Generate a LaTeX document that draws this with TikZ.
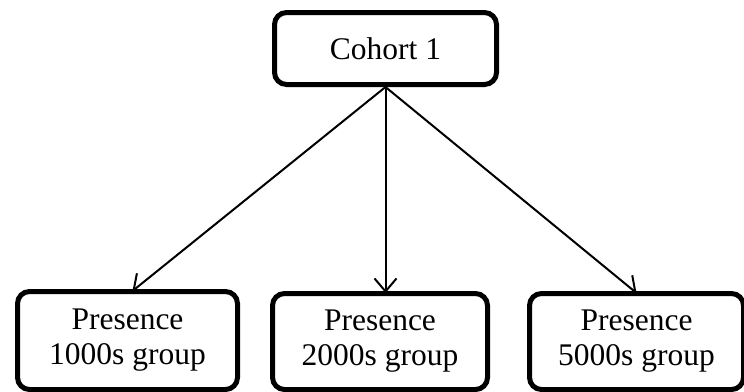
\documentclass[tikz,border=0pt]{standalone}
\usepackage{fontspec}
\setmainfont{Liberation Serif}
\usetikzlibrary{arrows.meta}
\begin{document}
\begin{tikzpicture}[x=1pt,y=-1pt,
  box/.style={draw=black, line width=5pt, rounded corners=12pt, fill=white,
    align=center, inner sep=0pt, font=\fontsize{31.5}{35}\selectfont},
  link/.style={line width=2pt, -{Straight Barb[length=13pt,width=22pt,line width=2pt]}}]
\useasboundingbox (0,0) rectangle (744,391);
\node[box, minimum width=222pt, minimum height=72pt] (c) at (385.5,48.5) {Cohort 1};
\node[box, minimum width=220pt, minimum height=98pt] (b1) at (127.5,340.5) {Presence\\1000s group};
\node[box, minimum width=215pt, minimum height=96pt] (b2) at (380,341.5) {Presence\\2000s group};
\node[box, minimum width=214pt, minimum height=96pt] (b3) at (636.5,341.5) {Presence\\5000s group};
\draw[link] (c.south) -- ([xshift=5pt,yshift=-2pt]b1.north);
\draw[link] (c.south) -- ([yshift=-2pt]c.south |- b2.north);
\draw[link] (c.south) -- ([yshift=-2pt]b3.north);
\end{tikzpicture}
\end{document}
